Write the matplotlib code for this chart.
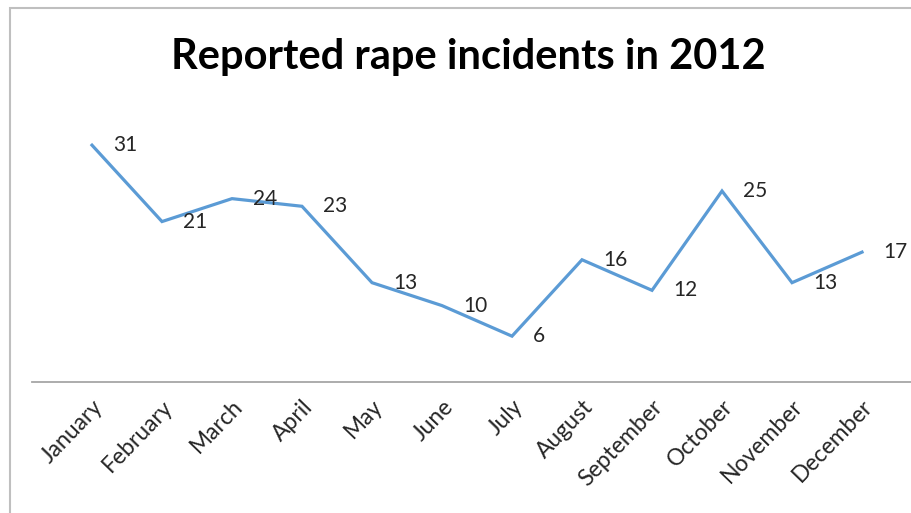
import matplotlib.pyplot as plt
from matplotlib.patches import Rectangle

# data
months = ["January", "February", "March", "April", "May", "June",
          "July", "August", "September", "October", "November", "December"]
incidents = [31, 21, 24, 23, 13, 10, 6, 16, 12, 25, 13, 17]

plt.rcParams['font.family'] = ['Lato', 'DejaVu Sans']

W, H = 912, 513
fig = plt.figure(figsize=(W / 100, H / 100), dpi=100)

# axes placed in pixel terms: baseline at y=382, left edge at x=32
ymax = 35
px_per_unit = 7.64
top_px = 382 - ymax * px_per_unit
ax = fig.add_axes([32 / W, 1 - 382 / H, 1 - 32 / W, (382 - top_px) / H])

x = list(range(len(months)))
ax.plot(x, incidents, color='#5B9BD5', lw=2.3, solid_joinstyle='miter')

for xi, v in zip(x, incidents):
    ax.annotate(str(v), (xi, v), xytext=(15, 0), textcoords='offset points',
                ha='left', va='center', fontsize=15, color='#262626')

ax.set_xlim(-0.857, 11.714)
ax.set_ylim(0, ymax)
ax.set_xticks(x)
ax.set_xticklabels(months, rotation=46, ha='right', rotation_mode='anchor',
                   fontsize=16.5, color='#262626')
ax.tick_params(axis='x', length=0, pad=10)
ax.set_yticks([])
for s in ['top', 'right', 'left']:
    ax.spines[s].set_visible(False)
ax.spines['bottom'].set_color('#a6a6a6')
ax.spines['bottom'].set_linewidth(1.3)
ax.patch.set_alpha(0)

fig.text(468 / W, 1 - 57 / H, "Reported rape incidents in 2012",
         ha='center', va='center', fontsize=30, fontweight='bold', color='black')

# outer chart border (runs off the right and bottom edges)
fig.patches.append(Rectangle((10 / W, -0.1), 1.0, (H - 8) / H + 0.1,
                             transform=fig.transFigure, fill=False,
                             edgecolor='#bfbfbf', lw=1.5))

fig.savefig('out.png', dpi=100)
